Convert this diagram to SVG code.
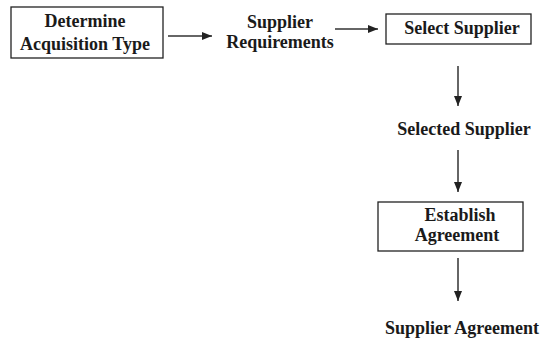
<svg xmlns="http://www.w3.org/2000/svg" width="546" height="344" viewBox="0 0 546 344">
<style>
.box{fill:#fff;stroke:#222;stroke-width:1.3}
.t{font-family:"Liberation Serif","Times New Roman",serif;font-weight:bold;font-size:18px;fill:#1a1a1a;text-anchor:middle}
.c{stroke:#333;stroke-width:1.5;fill:none}
</style>
<defs>
<marker id="ah" viewBox="0 0 10 8" refX="10" refY="4" markerWidth="10" markerHeight="8" markerUnits="userSpaceOnUse" orient="auto">
<path d="M0,0 L10,4 L0,8 Z" fill="#222"/>
</marker>
</defs>
<rect width="546" height="344" fill="#fff"/>
<g id="n1">
<rect class="box" x="11" y="7" width="152" height="51"/>
<text class="t" x="85" y="27">Determine</text>
<text class="t" x="85" y="50">Acquisition Type</text>
</g>
<g id="n2">
<text class="t" x="280" y="28">Supplier</text>
<text class="t" x="280" y="48">Requirements</text>
</g>
<g id="n3">
<rect class="box" x="386" y="14" width="145" height="30"/>
<text class="t" x="462" y="34">Select Supplier</text>
</g>
<g id="n4">
<text class="t" x="464" y="135">Selected Supplier</text>
</g>
<g id="n5">
<rect class="box" x="378" y="202" width="145" height="49"/>
<text class="t" x="460" y="221">Establish</text>
<text class="t" x="457" y="241">Agreement</text>
</g>
<g id="n6">
<text class="t" x="462" y="334">Supplier Agreement</text>
</g>
<g id="connectors">
<line class="c" x1="168" y1="36" x2="212" y2="36" marker-end="url(#ah)"/>
<line class="c" x1="335" y1="29" x2="378" y2="29" marker-end="url(#ah)"/>
<line class="c" x1="458" y1="66" x2="458" y2="106" marker-end="url(#ah)"/>
<line class="c" x1="458" y1="150" x2="458" y2="192" marker-end="url(#ah)"/>
<line class="c" x1="458" y1="258" x2="458" y2="301" marker-end="url(#ah)"/>
</g>
</svg>
